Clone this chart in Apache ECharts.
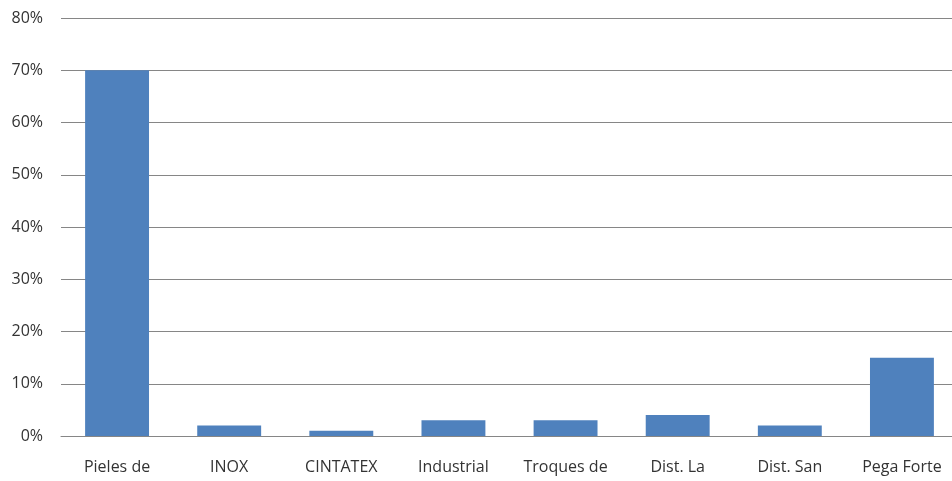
<!DOCTYPE html>
<html>
<head>
<meta charset="utf-8">
<script src="https://cdn.jsdelivr.net/npm/echarts@6/dist/echarts.min.js"></script>
<style>
	html, body { margin: 0; padding: 0; background: #fff; }
	#main { width: 952px; height: 481px; }
</style>
</head>
<body>
<div id="main"></div>
<script>
let categories = ['Pieles de', 'INOX', 'CINTATEX', 'Industrial', 'Troques de', 'Dist. La', 'Dist. San', 'Pega Forte'];
let values = [70, 2, 1, 3, 3, 4, 2, 15]; // porcentaje
let y_ticks = [0, 10, 20, 30, 40, 50, 60, 70, 80];

let chart = echarts.init(document.getElementById('main'));
let option = {
	animation: false,
	grid: {
		left: 61,
		width: 897, // el área sigue un poco fuera del lienzo
		top: 18,
		bottom: 45,
		outerBoundsMode: 'none',
	},
	xAxis: {
		type: 'category',
		data: categories,
		axisTick: { show: false },
		axisLine: {
			lineStyle: { color: '#868686', width: 1 },
		},
		axisLabel: {
			color: '#333',
			fontFamily: 'Open Sans',
			fontSize: 16,
			margin: 23,
			interval: 0,
		},
	},
	yAxis: {
		type: 'value',
		min: y_ticks[0],
		max: y_ticks[y_ticks.length - 1],
		interval: 10,
		axisLine: { show: false },
		axisTick: { show: false },
		splitLine: {
			lineStyle: { color: '#868686', width: 1 },
		},
		axisLabel: {
			color: '#333',
			fontFamily: 'Open Sans',
			fontSize: 16,
			margin: 18,
			formatter: '{value}%',
		},
	},
	series: [
		{
			type: 'bar',
			data: values,
			barWidth: '57%',
			itemStyle: { color: '#4f81bd' },
		},
	],
};
chart.setOption(option);
</script>
</body>
</html>
